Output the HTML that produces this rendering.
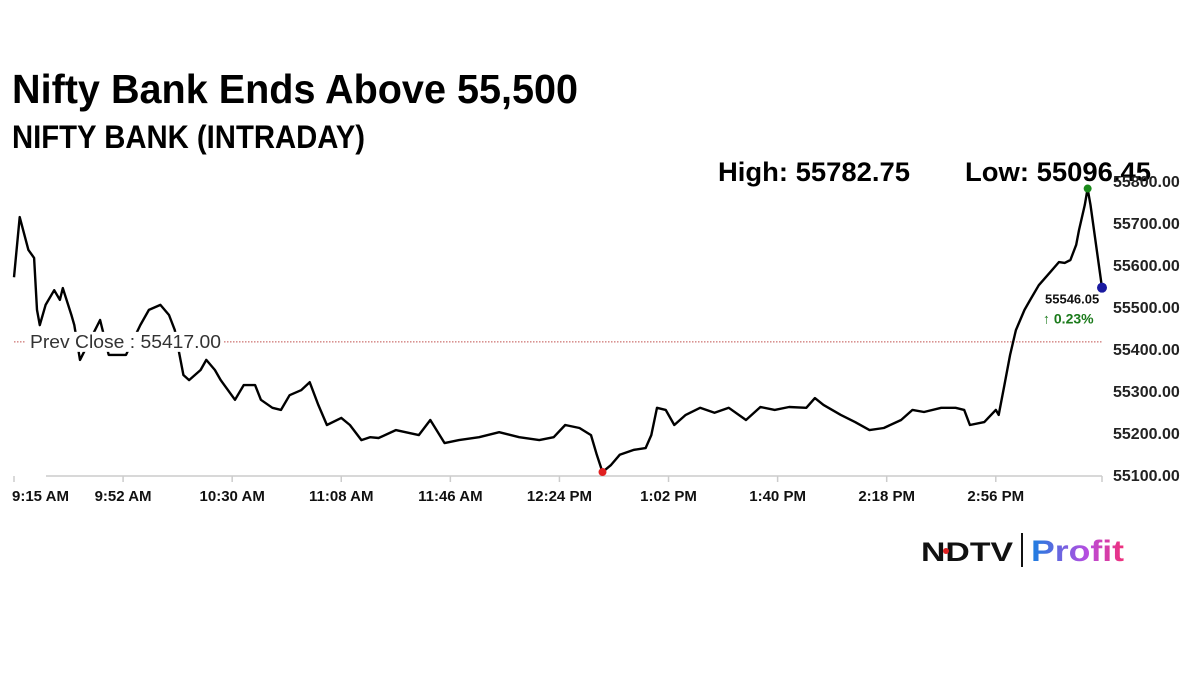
<!DOCTYPE html>
<html><head><meta charset="utf-8"><style>
html,body{margin:0;padding:0;background:#fff;}
svg{display:block;font-family:"Liberation Sans",Arial,sans-serif;}
</style></head><body>
<svg id="chart" width="1200" height="674" viewBox="0 0 1200 674">
<text x="12" y="103" font-size="41" font-weight="bold" textLength="566" lengthAdjust="spacingAndGlyphs">Nifty Bank Ends Above 55,500</text>
<text x="12" y="148" font-size="32" font-weight="bold" textLength="353" lengthAdjust="spacingAndGlyphs">NIFTY BANK (INTRADAY)</text>
<text x="718" y="181" font-size="27" font-weight="bold" textLength="192" lengthAdjust="spacingAndGlyphs">High: 55782.75</text>
<text x="965" y="181" font-size="27" font-weight="bold" textLength="186" lengthAdjust="spacingAndGlyphs">Low: 55096.45</text>
<g id="axes"></g>
<g id="plot"></g>
<g>
<text x="921" y="561" font-size="27" font-weight="900" textLength="92" lengthAdjust="spacingAndGlyphs" fill="#111">NDTV</text>
<circle cx="946" cy="551" r="3" fill="#e02020"></circle>
<rect x="1021" y="533" width="2" height="34" fill="#111"></rect>
<defs><linearGradient id="pg" x1="0" x2="1"><stop offset="0" stop-color="#1a7fe0"/><stop offset="0.6" stop-color="#b64de0"/><stop offset="1" stop-color="#f0307a"/></linearGradient></defs>
<text x="1031" y="561" font-size="30" font-weight="bold" textLength="93" lengthAdjust="spacingAndGlyphs" fill="url(#pg)">Profit</text>
</g>
</svg>
<script>
const times = [0,2,5,7,8,9,11,14,16,17,20,21,23,30,33,39,44,47,51,54,56,58,59,61,65,67,70,72,77,80,84,86,90,93,96,100,103,106,109,114,117,121,124,127,133,141,145,150,155,162,169,176,183,188,192,197,201,203,205,208,211,216,220,222,224,227,230,234,239,244,249,255,260,265,270,276,279,282,288,293,298,303,309,313,317,323,328,331,333,338,342,343,345,347,349,352,354,357,361,364,366,368,370,371,373,374,375,379];
const values = [55571,55714,55636,55617,55493,55457,55505,55540,55517,55545,55481,55457,55374,55469,55386,55386,55457,55493,55505,55481,55445,55374,55338,55326,55350,55374,55350,55326,55279,55314,55314,55279,55260,55255,55290,55302,55321,55267,55219,55236,55219,55183,55190,55188,55207,55195,55231,55176,55183,55190,55202,55190,55183,55190,55219,55212,55195,55148,55107,55124,55148,55160,55164,55195,55260,55255,55219,55243,55260,55248,55260,55231,55262,55255,55262,55260,55283,55267,55243,55226,55207,55212,55231,55255,55250,55260,55260,55255,55219,55226,55255,55243,55314,55386,55445,55493,55517,55552,55583,55607,55605,55612,55648,55683,55743,55782,55743,55546];
const yTicks = [55100,55200,55300,55400,55500,55600,55700,55800];
const xTickTimes = [0,38,76,114,152,190,228,266,304,342];
const xTickLabels = ["9:15 AM","9:52 AM","10:30 AM","11:08 AM","11:46 AM","12:24 PM","1:02 PM","1:40 PM","2:18 PM","2:56 PM"];
const prevClose = [55417];
const lastPrice = [55546.05];
const changePct = [0.23];
const highIdx = [105], lowIdx = [58];

const NS="http://www.w3.org/2000/svg";
const X0=14,X1=1102,T1=379, Y0=475, PX=0.42, V0=55100;
const xs=t=>X0+t*(X1-X0)/T1;
const ys=v=>Y0-(v-V0)*PX;
function mk(tag,attrs,parent,txt){const e=document.createElementNS(NS,tag);for(const k in attrs)e.setAttribute(k,attrs[k]);if(txt!=null)e.textContent=txt;parent.appendChild(e);return e;}
const axes=document.getElementById('axes'), plot=document.getElementById('plot');

let el=mk('line',{x1:46,x2:X1,y1:476,y2:476,stroke:'#ccc','stroke-width':1.5},axes);


xTickTimes.forEach((t,i)=>{
  let tk=mk('line',{x1:xs(t),x2:xs(t),y1:476,y2:482,stroke:'#ccc','stroke-width':1.5},axes);
  
  
  let lb=mk('text',{x:i==0?12:xs(t),y:501,'font-size':15,'font-weight':'bold','text-anchor':i==0?'start':'middle',fill:'#111'},axes,xTickLabels[i]);
  
  
});
let ed=mk('line',{x1:X1,x2:X1,y1:476,y2:482,stroke:'#ccc','stroke-width':1.5},axes);


yTicks.forEach(v=>{
  let lb=mk('text',{x:1113,y:ys(v)+6,'font-size':16,'font-weight':'bold',fill:'#222'},axes,v.toFixed(2));
  
  
});
let pc=mk('line',{x1:X0,x2:X1,y1:ys(prevClose[0]),y2:ys(prevClose[0]),stroke:'#c0504d','stroke-width':1,'stroke-dasharray':'1.5,1.5'},plot);


let d=times.map((t,i)=>(i?'L':'M')+xs(t).toFixed(1)+','+ys(values[i]).toFixed(1)).join('');
let ln=mk('path',{d:d,fill:'none',stroke:'#000','stroke-width':2.4,'stroke-linejoin':'round'},plot);


let bg=mk('rect',{x:26,y:ys(prevClose[0])-10,width:198,height:20,fill:'#fff'},plot);


let pl=mk('text',{x:30,y:ys(prevClose[0])+6,'font-size':18,fill:'#333',textLength:191,lengthAdjust:'spacingAndGlyphs'},plot,'Prev Close : '+prevClose[0].toFixed(2));


let hi=mk('circle',{cx:xs(times[highIdx[0]]),cy:ys(values[highIdx[0]]),r:4,fill:'#1a8a1a'},plot);


let lo=mk('circle',{cx:xs(times[lowIdx[0]]),cy:ys(values[lowIdx[0]]),r:4,fill:'#e02020'},plot);


const li=values.length-1;
let la=mk('circle',{cx:xs(times[li]),cy:ys(values[li]),r:5,fill:'#1a1aa0'},plot);


let lv=mk('text',{x:1045,y:ys(values[li])+16,'font-size':13,'font-weight':'bold',fill:'#111'},plot,lastPrice[0].toFixed(2));


let lp=mk('text',{x:1043,y:ys(values[li])+36,'font-size':14,'font-weight':'bold',fill:'#1a7a1a'},plot,'\u2191 '+changePct[0].toFixed(2)+'%');


</script>
</body></html>
